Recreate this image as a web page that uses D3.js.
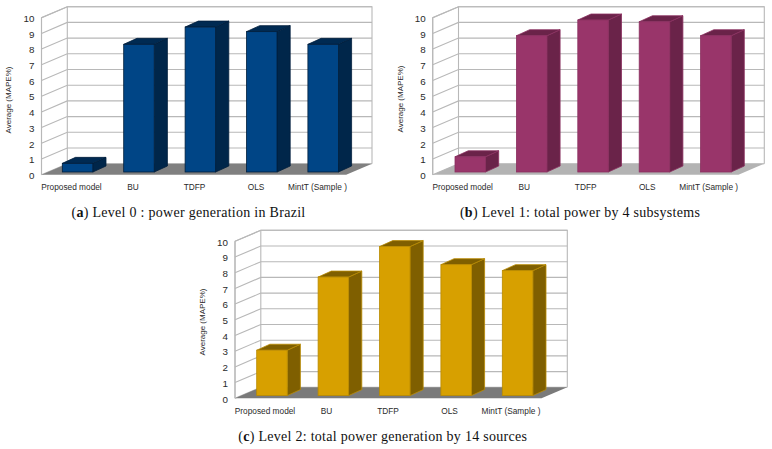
<!DOCTYPE html>
<html><head><meta charset="utf-8">
<script src="https://cdn.jsdelivr.net/npm/d3@7"></script>
<style>html,body{margin:0;padding:0;background:#fff}svg{display:block}</style></head>
<body><svg id="c" width="772" height="449"></svg>
<script>
const categories = ["Proposed model","BU","TDFP","OLS","MintT (Sample )"];
const valuesA = [0.55,8.13,9.23,8.94,8.13];
const valuesB = [0.97,8.68,9.68,9.57,8.68];
const valuesC = [2.89,7.55,9.49,8.34,7.96];
const yTicks = [0,1,2,3,4,5,6,7,8,9,10];
const captionA = ["a"," Level 0 : power generation in Brazil"];
const captionB = ["b"," Level 1: total power by 4 subsystems"];
const captionC = ["c"," Level 2: total power generation by 14 sources"];

const panels = [
 {values:valuesA,cap:captionA,x0:41.5,right:372,y0:174.7,bar0:62.3,face:"#004586",side:"#00264a",top:"#002a52",stroke:"#001e3c",floor:"#808080",capX:188.5,capY:217,ttlX:9,ttlY:100},
 {values:valuesB,cap:captionB,x0:432.7,right:764.3,y0:174.7,bar0:455,face:"#99356a",side:"#6a2349",top:"#6a2349",stroke:"#8a3060",floor:"#b3b3b3",capX:580,capY:217,ttlX:401,ttlY:99},
 {values:valuesC,cap:captionC,x0:235,right:567.3,y0:398.3,bar0:256.7,face:"#d7a000",side:"#7f5f00",top:"#7f5f00",stroke:"#b98a00",floor:"#7a7a7a",capX:382.7,capY:441,ttlX:203,ttlY:322}
];
const dx=25.8, dy=-11, unit=15.7, barW=30.5, depthX=13.2, depthY=-6, liftY=-2.7, step=61.4;
const svg=d3.select("#c");
const sans="'Liberation Sans',Arial,sans-serif";

panels.forEach(p=>{
  const g=svg.append("g");
  const y=d3.scaleLinear().domain([0,10]).range([p.y0,p.y0-10*unit]);
  const x=d3.scaleBand().domain(categories).range([p.bar0-(step-barW)/2,p.bar0-(step-barW)/2+5*step]).paddingInner((step-barW)/step).paddingOuter((step-barW)/step/2);
  const lab=d3.scalePoint().domain(categories).range([p.x0+30,p.x0+276]);
  const backR=p.right, backL=p.x0+dx, frontR=backR-dx;

  // walls
  g.append("path").attr("fill","#fff").attr("stroke","#b8b8b8").attr("stroke-width",1.1)
    .attr("d",`M${p.x0},${y(0)}L${p.x0},${y(10)}L${backL},${y(10)+dy}L${backR},${y(10)+dy}L${backR},${y(0)+dy}`);
  g.append("line").attr("x1",backL).attr("x2",backL).attr("y1",y(10)+dy).attr("y2",y(0)+dy).attr("stroke","#b8b8b8").attr("stroke-width",1.1);
  g.selectAll("path.grid").data(yTicks).join("path").attr("class","grid").attr("fill","none")
    .attr("stroke","#b8b8b8").attr("stroke-width",1.1)
    .attr("d",t=>`M${p.x0},${y(t)}L${backL},${y(t)+dy}L${backR},${y(t)+dy}`);
  // floor
  g.append("path").attr("fill",p.floor)
    .attr("d",`M${p.x0},${y(0)}L${backL},${y(0)+dy}L${backR},${y(0)+dy}L${frontR},${y(0)}Z`);
  // y axis
  g.append("line").attr("x1",p.x0).attr("x2",p.x0).attr("y1",y(0)).attr("y2",y(10)).attr("stroke","#b8b8b8").attr("stroke-width",1.1);
  g.selectAll("text.tick").data(yTicks).join("text").attr("class","tick")
    .attr("x",p.x0-7).attr("y",t=>y(t)+4.2).attr("text-anchor","end")
    .attr("font-family",sans).attr("font-size",9.8).attr("fill","#2a2a2a").text(d=>d);
  // bars
  const bars=g.selectAll("g.bar").data(categories.map((c,i)=>({c,v:p.values[i]}))).join("g").attr("class","bar");
  const base=y(0)+liftY;
  const top=d=>base-(y(0)-y(d.v));
  bars.append("path").attr("fill",p.side).attr("stroke",p.stroke).attr("stroke-width",.8)
    .attr("d",d=>{const r=x(d.c)+x.bandwidth();return `M${r},${base}L${r},${top(d)}L${r+depthX},${top(d)+depthY}L${r+depthX},${base+depthY}Z`;});
  bars.append("path").attr("fill",p.top).attr("stroke",p.stroke).attr("stroke-width",.8)
    .attr("d",d=>{const l=x(d.c),r=l+x.bandwidth(),t=top(d);return `M${l},${t}L${l+depthX},${t+depthY}L${r+depthX},${t+depthY}L${r},${t}Z`;});
  bars.append("rect").attr("fill",p.face).attr("stroke",p.stroke).attr("stroke-width",.8)
    .attr("x",d=>x(d.c)).attr("width",x.bandwidth()).attr("y",top).attr("height",d=>base-top(d));
  // category labels
  g.selectAll("text.cat").data(categories).join("text").attr("class","cat")
    .attr("x",d=>lab(d)).attr("y",p.y0+15.2)
    .attr("text-anchor","middle").attr("font-family",sans).attr("font-size",8.3).attr("fill","#2a2a2a").text(d=>d);
  // axis title
  g.append("text").attr("transform",`translate(${p.ttlX+2},${p.ttlY}) rotate(-90)`)
    .attr("text-anchor","middle").attr("font-family",sans).attr("font-size",8).attr("fill","#2a2a2a").text("Average (MAPE%)");
  // caption
  const cap=g.append("text").attr("x",p.capX).attr("y",p.capY).attr("text-anchor","middle")
    .attr("font-family","'Liberation Serif',serif").attr("font-size",14).attr("letter-spacing",.28).attr("fill","#111");
  cap.append("tspan").text("(");
  cap.append("tspan").attr("font-weight","bold").text(p.cap[0]);
  cap.append("tspan").text(")"+p.cap[1]);
});
</script></body></html>
